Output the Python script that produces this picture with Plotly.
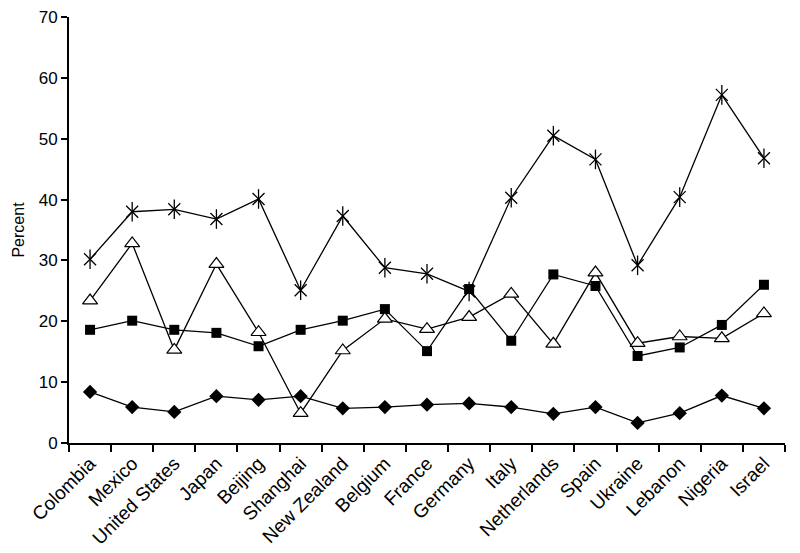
import plotly.graph_objects as go

COUNTRIES = ["Colombia", "Mexico", "United States", "Japan", "Beijing", "Shanghai",
             "New Zealand", "Belgium", "France", "Germany", "Italy", "Netherlands",
             "Spain", "Ukraine", "Lebanon", "Nigeria", "Israel"]

star_vals = [30.2, 38.0, 38.4, 36.8, 40.1, 25.1, 37.3, 28.8, 27.8, 24.9, 40.3, 50.5,
             46.6, 29.2, 40.4, 57.2, 46.8]
triangle_vals = [23.4, 32.8, 15.3, 29.4, 18.2, 4.9, 15.2, 20.4, 18.7, 20.7, 24.5, 16.3,
                 28.0, 16.4, 17.5, 17.2, 21.3]
square_vals = [18.6, 20.1, 18.6, 18.1, 15.9, 18.6, 20.1, 22.0, 15.1, 25.3, 16.8, 27.7,
               25.8, 14.3, 15.7, 19.4, 26.0]
diamond_vals = [8.4, 5.9, 5.1, 7.7, 7.1, 7.7, 5.7, 5.9, 6.3, 6.5, 5.9, 4.8,
                5.9, 3.3, 4.9, 7.8, 5.7]

LINE = dict(color='black', width=1.3)
FONT = dict(family='Liberation Sans, Arial, sans-serif', size=16, color='black')

fig = go.Figure()

fig.add_trace(go.Scatter(
    x=COUNTRIES, y=diamond_vals, mode='lines+markers', line=LINE,
    marker=dict(symbol='diamond', size=11, color='black'),
))
fig.add_trace(go.Scatter(
    x=COUNTRIES, y=square_vals, mode='lines+markers', line=LINE,
    marker=dict(symbol='square', size=10, color='black'),
))
fig.add_trace(go.Scatter(
    x=COUNTRIES, y=triangle_vals, mode='lines+markers', line=LINE,
    marker=dict(symbol='triangle-up', size=13, color='white',
                line=dict(color='black', width=1.2)),
))
# six-armed star: an X plus a vertical bar
fig.add_trace(go.Scatter(
    x=COUNTRIES, y=star_vals, mode='lines+markers', line=LINE,
    marker=dict(symbol='x-thin-open', size=12, color='black',
                line=dict(color='black', width=1.3)),
))
fig.add_trace(go.Scatter(
    x=COUNTRIES, y=star_vals, mode='markers',
    marker=dict(symbol='line-ns-open', size=14, color='black',
                line=dict(color='black', width=1.3)),
))

# page body adds an 8px offset, so margins are shifted to compensate
fig.update_layout(
    width=800, height=553,
    margin=dict(t=9, r=23, b=118, l=61),
    paper_bgcolor='white', plot_bgcolor='white',
    font=FONT, showlegend=False,
    xaxis=dict(
        type='category', range=[-0.5, 16.5], tickangle=-45,
        tickfont=dict(size=19), automargin=False,
        showline=True, linecolor='black', linewidth=2,
        ticks='outside', tickson='boundaries', ticklen=7, tickwidth=1.5, tickcolor='black',
        showgrid=False, zeroline=False,
    ),
    yaxis=dict(
        range=[0, 70], dtick=10, automargin=False, tickfont=dict(size=17),
        ticklabeloverflow='allow',
        title=dict(text='Percent', standoff=10, font=dict(size=16)),
        showline=True, linecolor='black', linewidth=2,
        ticks='outside', ticklen=6, tickwidth=1.5, tickcolor='black',
        showgrid=False, zeroline=False,
    ),
)

fig.write_html("out.html")
